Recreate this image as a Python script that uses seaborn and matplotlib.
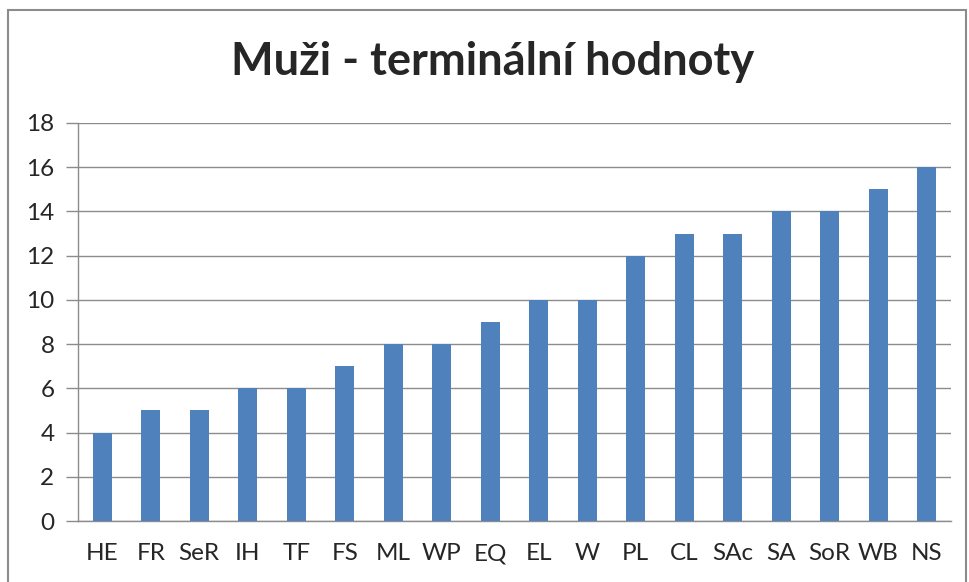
import numpy as np
import pandas as pd
import matplotlib.pyplot as plt
import seaborn as sns
from matplotlib.patches import Rectangle

categories = ["HE", "FR", "SeR", "IH", "TF", "FS", "ML", "WP", "EQ", "EL",
              "W", "PL", "CL", "SAc", "SA", "SoR", "WB", "NS"]
values = [4, 5, 5, 6, 6, 7, 8, 8, 9, 10, 10, 12, 13, 13, 14, 14, 15, 16]
y_ticks = [0, 2, 4, 6, 8, 10, 12, 14, 16, 18]

df = pd.DataFrame({"kat": categories, "hodnota": values})

sns.set_style("white")
plt.rcParams["font.family"] = ["Lato", "DejaVu Sans"]

fig = plt.figure(figsize=(9.69, 5.82), dpi=100)
ax = fig.add_axes([0.0805, 0.1048, 0.9009, 0.6839])

sns.barplot(data=df, x="kat", y="hodnota", color="#4F81BD", width=0.39,
            saturation=1, linewidth=0, ax=ax, zorder=3)

ax.set_ylim(0, 18)
ax.set_xlim(-0.5, len(categories) - 0.5)
ax.set_yticks(y_ticks)
ax.yaxis.grid(True, color="#8C8C8C", linewidth=1, zorder=0)
ax.set_axisbelow(True)
ax.set_xlabel("")
ax.set_ylabel("")

for s in ["top", "right"]:
    ax.spines[s].set_visible(False)
for s in ["left", "bottom"]:
    ax.spines[s].set_color("#8C8C8C")
    ax.spines[s].set_linewidth(1)

# x ticks at category boundaries
ax.set_xticks(np.arange(-0.5, len(categories), 1), minor=True)
ax.tick_params(axis="x", which="minor", length=9, color="#8C8C8C", width=1)
ax.tick_params(axis="x", which="major", length=0, pad=16, labelsize=17.5)
ax.tick_params(axis="y", length=9, color="#8C8C8C", width=1, pad=8, labelsize=17.5)
ax.yaxis.set_ticks_position("left")

fig.text(0.508, 0.893, "Muži - terminální hodnoty", ha="center", va="center",
         fontsize=32.5, fontweight="bold")

# chart frame
fig.patches.append(Rectangle((8 / 969, -0.05), 958 / 969, 1 - 10 / 582 + 0.05,
                             transform=fig.transFigure, fill=False,
                             edgecolor="#8C8C8C", linewidth=1.5))

fig.savefig("out.png", dpi=100)
